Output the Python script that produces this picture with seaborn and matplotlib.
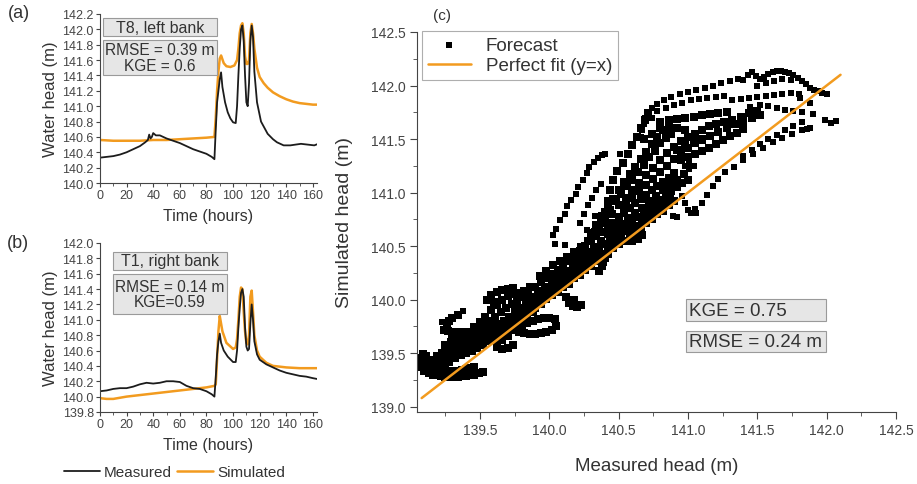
import numpy as np
import pandas as pd
import seaborn as sns
import matplotlib.pyplot as plt
from matplotlib.patches import Rectangle
from matplotlib.ticker import MultipleLocator

# ---- panel (a): T8, left bank ----
t_a_meas = [0, 5, 10, 15, 20, 25, 30, 34, 36, 37,
            38, 39, 40, 42, 45, 50, 55, 60, 65, 70,
            75, 80, 84, 86, 87, 88, 89, 90, 91, 92,
            94, 96, 98, 100, 102, 103, 104, 105, 106, 107,
            108, 109, 110, 111, 112, 113, 114, 115, 116, 118,
            121, 126, 130, 133, 138, 143, 147, 151, 156, 161,
            164]
a_meas = [140.33, 140.34, 140.35, 140.37, 140.40, 140.44, 140.48, 140.53, 140.56, 140.63,
          140.58, 140.60, 140.65, 140.62, 140.62, 140.58, 140.55, 140.52, 140.48, 140.44,
          140.41, 140.38, 140.34, 140.31, 140.70, 141.05, 141.20, 141.35, 141.44, 141.25,
          141.05, 140.92, 140.84, 140.79, 140.78, 141.00, 141.40, 141.75, 142.00, 142.05,
          141.85, 141.40, 141.05, 141.00, 141.30, 141.85, 142.05, 141.90, 141.45, 141.05,
          140.80, 140.64, 140.57, 140.53, 140.49, 140.49, 140.50, 140.51, 140.50, 140.49,
          140.51]
t_a_sim = [0, 10, 20, 30, 40, 50, 60, 70, 80,
           86, 87, 88, 89, 90, 91,
           93, 95, 98, 101, 103,
           104, 105, 106, 107, 108, 109, 110, 111, 112, 113, 114, 115, 116,
           118, 120, 123, 126, 130,
           135, 140, 145, 150, 155, 160, 165]
a_sim = [140.56, 140.55, 140.55, 140.55, 140.56, 140.56, 140.57, 140.58, 140.59,
         140.60, 140.85, 141.20, 141.45, 141.62, 141.66,
         141.56, 141.52, 141.51, 141.53, 141.60,
         141.75, 141.95, 142.05, 142.08, 141.95, 141.65, 141.55, 141.55, 141.60, 141.95, 142.07, 141.95, 141.75,
         141.50, 141.38, 141.30, 141.24, 141.18,
         141.13, 141.09, 141.06, 141.04, 141.03, 141.02, 141.02]

# ---- panel (b): T1, right bank ----
t_b_meas = [0, 5, 10, 15, 20, 25, 30, 35, 40, 45,
            50, 55, 60, 65, 70, 75, 80, 84, 86, 87,
            88, 89, 90, 91, 93, 96, 100, 102, 103, 104,
            105, 106, 107, 108, 109, 110, 111, 112, 113, 114,
            115, 116, 118, 120, 125, 130, 135, 140, 145, 150,
            155, 160, 163]
b_meas = [140.07, 140.08, 140.10, 140.11, 140.11, 140.13, 140.16, 140.18, 140.17, 140.18,
          140.20, 140.20, 140.19, 140.14, 140.11, 140.10, 140.07, 140.03, 140.00, 140.25,
          140.55, 140.72, 140.82, 140.70, 140.60, 140.52, 140.45, 140.45, 140.60, 140.90,
          141.15, 141.35, 141.40, 141.30, 140.90, 140.65, 140.60, 140.62, 140.95, 141.20,
          141.00, 140.72, 140.55, 140.48, 140.42, 140.38, 140.34, 140.31, 140.29, 140.27,
          140.26, 140.24, 140.23]
t_b_sim = [0, 5, 10, 20, 30, 40, 50, 60, 70, 80,
           86, 87, 88, 89, 90, 91, 92, 95, 100, 102,
           103, 104, 105, 106, 107, 108, 109, 110, 111, 112,
           113, 114, 115, 116, 118, 120, 125, 130, 140, 150,
           165]
b_sim = [139.98, 139.97, 139.97, 140.00, 140.02, 140.04, 140.06, 140.08, 140.10, 140.12,
         140.14, 140.16, 140.50, 140.85, 141.05, 140.95, 140.85, 140.70, 140.62, 140.64,
         140.75, 141.00, 141.30, 141.42, 141.40, 141.10, 140.85, 140.70, 140.68, 140.80,
         141.30, 141.38, 141.10, 140.80, 140.60, 140.52, 140.44, 140.40, 140.38, 140.37,
         140.37]

# ---- panel (c): forecast (measured, simulated) pairs ----
# dense part of the cloud (low and central band)
low_pts = [
    (139.10, 139.33), (139.13, 139.31), (139.16, 139.30), (139.19, 139.30), (139.22, 139.29),
    (139.25, 139.28), (139.28, 139.28), (139.31, 139.28), (139.34, 139.28), (139.37, 139.29),
    (139.40, 139.29), (139.43, 139.30), (139.46, 139.30), (139.49, 139.31), (139.52, 139.32),
    (139.07, 139.37), (139.10, 139.36), (139.13, 139.35), (139.16, 139.35), (139.19, 139.34),
    (139.22, 139.34), (139.25, 139.34), (139.28, 139.33), (139.31, 139.33), (139.34, 139.33),
    (139.37, 139.34), (139.40, 139.35), (139.43, 139.36), (139.46, 139.37),
    (139.07, 139.41), (139.08, 139.45), (139.09, 139.49), (139.11, 139.47),
    (139.20, 139.38), (139.24, 139.40), (139.28, 139.42), (139.32, 139.45), (139.36, 139.48),
    (139.40, 139.50), (139.44, 139.52), (139.48, 139.55), (139.52, 139.58), (139.56, 139.61),
    (139.60, 139.63), (139.64, 139.66), (139.68, 139.70), (139.72, 139.73), (139.76, 139.77),
    (139.80, 139.80), (139.84, 139.84), (139.88, 139.88),
    (139.15, 139.44), (139.19, 139.47), (139.23, 139.50), (139.27, 139.53), (139.31, 139.56),
    (139.35, 139.58), (139.39, 139.61), (139.43, 139.63), (139.47, 139.66), (139.51, 139.68),
    (139.55, 139.71), (139.59, 139.73), (139.63, 139.77), (139.67, 139.80), (139.71, 139.84),
    (139.75, 139.88), (139.79, 139.92), (139.83, 139.96), (139.87, 140.00),
    (139.30, 139.62), (139.34, 139.64), (139.38, 139.67), (139.42, 139.70), (139.46, 139.74),
    (139.50, 139.79), (139.54, 139.84), (139.58, 139.90), (139.62, 139.95), (139.66, 140.00),
    (139.70, 140.03), (139.74, 140.05), (139.78, 140.06), (139.82, 140.08), (139.86, 140.12),
    (139.55, 140.00), (139.58, 140.04), (139.62, 140.07), (139.66, 140.09), (139.70, 140.10),
    (139.74, 140.11), (139.60, 139.98),
    (139.24, 139.72), (139.27, 139.71), (139.30, 139.70), (139.33, 139.70), (139.36, 139.70),
    (139.39, 139.69), (139.42, 139.68), (139.45, 139.68), (139.26, 139.76), (139.28, 139.80),
    (139.30, 139.83), (139.34, 139.86),
    (139.78, 139.70), (139.82, 139.69), (139.86, 139.68), (139.90, 139.68), (139.94, 139.69),
    (139.98, 139.70), (140.02, 139.72), (140.05, 139.75), (139.80, 139.76), (139.84, 139.78),
    (139.88, 139.80), (139.92, 139.82), (139.96, 139.83), (140.00, 139.83), (140.04, 139.82),
    (139.74, 139.72), (139.70, 139.66), (139.66, 139.62), (139.62, 139.56), (139.66, 139.54),
    (139.70, 139.55), (139.74, 139.58),
    (139.12, 139.41), (139.16, 139.40), (139.20, 139.42), (139.24, 139.45), (139.28, 139.48),
    (139.32, 139.51), (139.36, 139.53), (139.40, 139.56), (139.44, 139.58), (139.48, 139.61),
    (139.52, 139.64), (139.56, 139.66), (139.60, 139.69), (139.64, 139.72), (139.68, 139.75),
    (139.72, 139.79), (139.76, 139.83), (139.80, 139.86), (139.84, 139.90), (139.88, 139.94),
    (139.25, 139.58), (139.29, 139.60), (139.33, 139.62), (139.37, 139.64), (139.41, 139.66),
    (139.45, 139.70), (139.49, 139.73), (139.53, 139.76), (139.57, 139.80), (139.61, 139.84),
    (139.65, 139.88), (139.69, 139.92), (139.73, 139.96), (139.77, 139.99), (139.81, 140.02),
    (139.85, 140.06),
]

mid_pts = [
    (139.90, 139.92), (139.94, 139.96), (139.98, 140.01), (140.02, 140.04), (140.06, 140.07),
    (140.10, 140.12), (140.14, 140.15), (140.18, 140.20), (140.22, 140.23), (140.26, 140.28),
    (140.30, 140.31), (140.34, 140.36), (140.38, 140.40), (140.42, 140.43), (140.46, 140.48),
    (140.50, 140.52), (140.54, 140.55), (140.58, 140.60), (140.62, 140.63), (140.66, 140.68),
    (140.70, 140.72), (140.74, 140.75), (140.78, 140.80), (140.82, 140.83), (140.86, 140.88),
    (140.90, 140.92),
    (139.92, 139.99), (139.97, 140.03), (140.02, 140.08), (140.07, 140.13), (140.12, 140.18),
    (140.17, 140.23), (140.22, 140.29), (140.27, 140.34), (140.32, 140.38), (140.37, 140.43),
    (140.42, 140.49), (140.47, 140.54), (140.52, 140.59), (140.57, 140.64), (140.62, 140.69),
    (140.67, 140.74), (140.72, 140.79), (140.77, 140.84), (140.82, 140.89), (140.87, 140.94),
    (139.88, 140.02), (139.92, 140.05), (139.96, 140.08), (140.00, 140.11), (140.04, 140.15),
    (140.08, 140.18), (140.12, 140.22), (140.16, 140.26), (140.20, 140.30), (140.24, 140.35),
    (140.28, 140.39), (140.32, 140.43), (140.36, 140.48), (140.40, 140.52), (140.44, 140.56),
    (140.48, 140.60), (140.52, 140.64), (140.56, 140.69), (140.60, 140.73), (140.64, 140.77),
    (140.68, 140.81), (140.72, 140.85), (140.76, 140.89), (140.80, 140.93), (140.84, 140.97),
    (140.88, 141.01), (140.92, 141.05), (140.96, 141.09), (141.00, 141.12),
    (139.92, 140.08), (139.97, 140.12), (140.02, 140.17), (140.07, 140.22), (140.12, 140.27),
    (140.17, 140.33), (140.22, 140.38), (140.27, 140.44), (140.32, 140.49), (140.37, 140.55),
    (140.42, 140.61), (140.47, 140.66), (140.52, 140.71), (140.57, 140.76), (140.62, 140.81),
    (140.67, 140.86), (140.72, 140.92), (140.77, 140.97), (140.82, 141.02), (140.87, 141.07),
    (140.92, 141.12), (140.97, 141.17),
    (139.90, 140.12), (139.94, 140.16), (139.98, 140.20), (140.02, 140.24), (140.06, 140.28),
    (140.10, 140.32), (140.14, 140.36), (140.18, 140.40), (140.22, 140.45), (140.26, 140.50),
    (140.30, 140.55), (140.34, 140.59), (140.38, 140.63), (140.42, 140.68), (140.46, 140.72),
    (140.50, 140.77), (140.54, 140.81), (140.58, 140.86), (140.62, 140.90), (140.66, 140.94),
    (140.70, 140.98), (140.74, 141.02), (140.78, 141.06), (140.82, 141.10), (140.86, 141.14),
    (140.90, 141.18),
    (139.93, 140.22), (139.98, 140.27), (140.03, 140.32), (140.08, 140.36), (140.13, 140.40),
    (140.18, 140.44), (140.23, 140.49), (140.28, 140.55), (140.33, 140.63), (140.37, 140.72),
    (140.40, 140.82), (140.42, 140.92), (140.44, 141.02), (140.46, 141.12), (140.49, 141.20),
    (140.53, 141.28), (140.57, 141.36), (140.60, 141.44), (140.63, 141.52), (140.66, 141.60),
    (140.69, 141.68), (140.71, 141.74),
    (140.30, 140.62), (140.34, 140.70), (140.38, 140.78), (140.42, 140.86), (140.46, 140.94),
    (140.50, 141.02), (140.54, 141.10), (140.58, 141.17), (140.62, 141.24), (140.66, 141.31),
    (140.70, 141.38), (140.74, 141.45), (140.78, 141.52), (140.82, 141.58), (140.86, 141.62),
    (140.36, 140.66), (140.40, 140.75), (140.44, 140.84), (140.48, 140.92), (140.52, 140.99),
    (140.56, 141.06), (140.60, 141.12), (140.64, 141.19), (140.68, 141.26), (140.72, 141.33),
    (140.76, 141.39), (140.80, 141.46), (140.84, 141.51), (140.88, 141.55),
    (140.45, 140.80), (140.50, 140.88), (140.55, 140.95), (140.60, 141.02), (140.65, 141.09),
    (140.70, 141.16), (140.75, 141.23), (140.80, 141.30), (140.85, 141.37), (140.90, 141.43),
    (140.95, 141.48), (141.00, 141.52), (141.05, 141.55), (141.10, 141.58),
    (140.55, 140.88), (140.60, 140.95), (140.65, 141.01), (140.70, 141.07), (140.75, 141.13),
    (140.80, 141.19), (140.85, 141.25), (140.90, 141.31), (140.95, 141.37), (141.00, 141.42),
    (141.05, 141.46), (141.10, 141.49),
    (140.14, 139.97), (140.17, 139.94), (140.20, 139.93), (140.23, 139.95), (140.18, 140.00),
    (140.12, 140.02), (140.36, 140.27), (140.38, 140.31), (140.39, 140.35), (140.40, 140.39),
    (140.56, 140.55), (140.60, 140.55), (140.64, 140.57), (140.67, 140.60), (140.58, 140.58),
]

upper_dense_pts = [
    (140.92, 141.40), (140.98, 141.44), (141.04, 141.47), (141.10, 141.50), (141.16, 141.53),
    (141.22, 141.57), (141.28, 141.60), (141.34, 141.64), (141.40, 141.67), (141.46, 141.70),
    (141.52, 141.72),
    (140.95, 141.30), (141.00, 141.33), (141.05, 141.36), (141.10, 141.39), (141.15, 141.42),
    (141.20, 141.45), (141.25, 141.49), (141.30, 141.53), (141.35, 141.56), (141.40, 141.59),
    (141.15, 141.62), (141.20, 141.64), (141.26, 141.66), (141.32, 141.68), (141.38, 141.71),
    (141.44, 141.74), (141.50, 141.76),
    (140.80, 141.66), (140.86, 141.68), (140.92, 141.69), (140.98, 141.70), (141.04, 141.71),
    (141.10, 141.72), (141.16, 141.73), (141.22, 141.74), (141.28, 141.75),
    (140.68, 141.50), (140.74, 141.55), (140.80, 141.60), (140.86, 141.62), (140.92, 141.60),
    (140.98, 141.58),
]

# separate squares: top arcs, right-hand strands and outliers
arc_pts = [
    (140.66, 141.52), (140.67, 141.58), (140.68, 141.64), (140.69, 141.70), (140.71, 141.75),
    (140.74, 141.79), (140.78, 141.83), (140.83, 141.86), (140.88, 141.89), (140.94, 141.92),
    (141.00, 141.94), (141.06, 141.96), (141.12, 141.98), (141.18, 142.00), (141.24, 142.02),
    (141.30, 142.04),
    (140.74, 141.70), (140.78, 141.76), (140.84, 141.79), (140.90, 141.82), (140.96, 141.84),
    (141.02, 141.86), (141.08, 141.87), (141.14, 141.88), (141.20, 141.89), (141.26, 141.90),
    (141.36, 142.06), (141.40, 142.05), (141.43, 142.10), (141.46, 142.13), (141.49, 142.09),
    (141.52, 142.06), (141.55, 142.08), (141.58, 142.11), (141.61, 142.13), (141.64, 142.14),
    (141.67, 142.14), (141.70, 142.13), (141.73, 142.12), (141.76, 142.10), (141.79, 142.07),
    (141.82, 142.04), (141.85, 142.01), (141.88, 141.98), (141.91, 141.96), (141.94, 141.95),
    (141.97, 141.93), (142.00, 141.92), (141.50, 142.00), (141.56, 142.02), (141.62, 142.04),
    (141.68, 142.06), (141.74, 142.05),
    (141.32, 141.86), (141.38, 141.87), (141.44, 141.88), (141.50, 141.89), (141.56, 141.90),
    (141.62, 141.91), (141.68, 141.92), (141.74, 141.93), (141.80, 141.92),
    (141.45, 141.80), (141.52, 141.82), (141.58, 141.81), (141.64, 141.79), (141.70, 141.77),
    (141.76, 141.76), (141.82, 141.75),
    (140.98, 141.25), (141.01, 141.28), (141.04, 141.25), (141.01, 141.22),
    (141.90, 141.73), (141.99, 141.68), (142.07, 141.67), (141.86, 141.59), (142.03, 141.65),
    (141.81, 141.88), (141.88, 141.84),
]

sparse_pts = [
    (140.03, 140.60), (140.05, 140.66), (140.08, 140.74), (140.11, 140.80), (140.13, 140.87),
    (140.16, 140.93), (140.19, 140.99), (140.21, 141.05), (140.24, 141.12), (140.27, 141.18),
    (140.29, 141.24), (140.32, 141.29), (140.35, 141.32), (140.38, 141.35), (140.40, 141.36),
    (140.04, 140.52), (140.11, 140.51), (140.51, 141.36), (139.38, 139.89), (139.23, 139.79),
    (140.22, 140.72), (140.25, 140.80), (140.28, 140.88), (140.31, 140.95), (140.34, 141.02),
    (140.37, 141.08), (140.27, 140.65), (140.33, 140.78),
    (140.89, 140.78), (140.92, 140.77),
    (140.98, 140.90), (141.00, 140.84), (141.02, 140.81), (141.06, 140.81), (140.96, 140.97),
    (141.05, 140.85), (141.10, 140.90), (141.14, 140.98), (141.18, 141.06), (141.22, 141.13),
    (141.27, 141.19), (141.33, 141.24), (141.40, 141.30), (141.47, 141.36), (141.54, 141.42),
    (141.61, 141.47), (141.68, 141.51), (141.75, 141.55), (141.82, 141.58), (141.88, 141.60),
    (141.40, 141.34), (141.46, 141.40), (141.52, 141.45), (141.58, 141.50), (141.64, 141.54),
    (141.70, 141.58), (141.76, 141.62), (141.82, 141.66),
]

fit_range = [139.08, 142.10]

BLACK = "#1c1c1c"
ORANGE = "#f29b1f"
TEXT = "#333333"
BOX_FACE = "#e6e6e6"
BOX_EDGE = "#9a9a9a"

sns.set_style("ticks")
plt.rcParams["font.family"] = ["Liberation Sans", "DejaVu Sans"]
plt.rcParams["text.color"] = TEXT
plt.rcParams["axes.labelcolor"] = TEXT
plt.rcParams["xtick.color"] = "#444444"
plt.rcParams["ytick.color"] = "#444444"
plt.rcParams["axes.edgecolor"] = "#444444"

fig = plt.figure(figsize=(9.17, 4.85), dpi=100)
ax_a = fig.add_axes([0.109, 0.6206, 0.2366, 0.3485])
ax_b = fig.add_axes([0.109, 0.1485, 0.2366, 0.3485])
ax_c = fig.add_axes([0.4547, 0.1485, 0.5224, 0.7835])


def style_small(ax, ylo, yhi):
    ax.set_xlim(0, 163)
    ax.set_ylim(ylo, yhi)
    ax.xaxis.set_major_locator(MultipleLocator(20))
    ax.xaxis.set_minor_locator(MultipleLocator(10))
    ax.yaxis.set_major_locator(MultipleLocator(0.2))
    ax.yaxis.set_major_formatter(plt.FormatStrFormatter("%.1f"))
    ax.tick_params(which="major", direction="out", length=3, width=0.8, labelsize=9, pad=1.5)
    ax.tick_params(which="minor", direction="out", length=2, width=0.6)
    sns.despine(ax=ax)
    ax.set_xlabel("Time (hours)", fontsize=11.5)
    ax.set_ylabel("Water head (m)", fontsize=12)
    ax.xaxis.set_label_coords(0.5, -0.145)
    ax.yaxis.set_label_coords(-0.194, 0.5)


def text_box(ax, x0, y0, x1, y1, txt, size):
    ax.add_patch(Rectangle((x0, y0), x1 - x0, y1 - y0, transform=ax.transAxes,
                           facecolor=BOX_FACE, edgecolor=BOX_EDGE, lw=0.8, clip_on=False, zorder=5))
    if txt:
        ax.text((x0 + x1) / 2, (y0 + y1) / 2, txt, transform=ax.transAxes, ha="center", va="center",
                fontsize=size, linespacing=1.05, zorder=6)


# (a)
sns.lineplot(x=t_a_sim, y=a_sim, ax=ax_a, color=ORANGE, lw=1.8, label="Simulated")
sns.lineplot(x=t_a_meas, y=a_meas, ax=ax_a, color=BLACK, lw=1.3, label="Measured")
ax_a.legend_.remove()
style_small(ax_a, 140.0, 142.2)
text_box(ax_a, 0.014, 0.870, 0.539, 0.976, "T8, left bank", 11.5)
text_box(ax_a, 0.014, 0.639, 0.539, 0.846, "RMSE = 0.39 m\nKGE = 0.6", 11.2)

# (b)
sns.lineplot(x=t_b_sim, y=b_sim, ax=ax_b, color=ORANGE, lw=1.8, label="Simulated")
sns.lineplot(x=t_b_meas, y=b_meas, ax=ax_b, color=BLACK, lw=1.3, label="Measured")
ax_b.legend_.remove()
style_small(ax_b, 139.8, 142.0)
ax_b.xaxis.set_label_coords(0.5, -0.148)
text_box(ax_b, 0.06, 0.840, 0.585, 0.947, "T1, right bank", 11.5)
text_box(ax_b, 0.06, 0.580, 0.585, 0.817, "RMSE = 0.14 m\nKGE=0.59", 11.2)

# (c)
dense = pd.DataFrame(low_pts + mid_pts + upper_dense_pts, columns=["Measured", "Simulated"])
loose = pd.DataFrame(arc_pts + sparse_pts, columns=["Measured", "Simulated"])
sns.scatterplot(data=dense, x="Measured", y="Simulated", ax=ax_c, marker="s", s=40,
                color="black", linewidth=0, zorder=2)
sns.scatterplot(data=loose, x="Measured", y="Simulated", ax=ax_c, marker="s", s=15,
                color="black", linewidth=0, label="Forecast", zorder=2)
sns.lineplot(x=fit_range, y=fit_range, ax=ax_c, color=ORANGE, lw=1.8, label="Perfect fit (y=x)", zorder=3)
ax_c.set_xlim(139.046, 142.5)
ax_c.set_ylim(138.95, 142.5)
ax_c.xaxis.set_major_locator(MultipleLocator(0.5))
ax_c.xaxis.set_minor_locator(MultipleLocator(0.25))
ax_c.yaxis.set_major_locator(MultipleLocator(0.5))
ax_c.yaxis.set_minor_locator(MultipleLocator(0.25))
ax_c.xaxis.set_major_formatter(plt.FormatStrFormatter("%.1f"))
ax_c.yaxis.set_major_formatter(plt.FormatStrFormatter("%.1f"))
ax_c.tick_params(which="major", direction="out", length=5, width=0.8, labelsize=10, pad=3)
ax_c.tick_params(which="minor", direction="out", length=3, width=0.6)
sns.despine(ax=ax_c)
ax_c.set_xlabel("Measured head (m)", fontsize=13.5)
ax_c.set_ylabel("Simulated head (m)", fontsize=14)
ax_c.xaxis.set_label_coords(0.5, -0.118)
ax_c.yaxis.set_label_coords(-0.134, 0.5)
leg = ax_c.legend(loc="upper left", bbox_to_anchor=(0.0104, 1.003), fontsize=13.5, frameon=True,
                  fancybox=False, edgecolor=BOX_EDGE, borderaxespad=0, handlelength=2.3,
                  markerscale=1.0, borderpad=0.3, labelspacing=0.2)
leg.get_frame().set_linewidth(0.8)
text_box(ax_c, 0.5616, 0.2395, 0.854, 0.297, "", 13.5)
text_box(ax_c, 0.5616, 0.158, 0.854, 0.213, "", 13.5)
ax_c.text(0.567, 0.268, "KGE = 0.75", transform=ax_c.transAxes, ha="left", va="center", fontsize=13.5, zorder=6)
ax_c.text(0.567, 0.1855, "RMSE = 0.24 m", transform=ax_c.transAxes, ha="left", va="center", fontsize=13.5, zorder=6)

# panel letters
fig.text(0.009, 0.99, "(a)", fontsize=13, va="top", ha="left")
fig.text(0.008, 0.515, "(b)", fontsize=13, va="top", ha="left")
fig.text(0.472, 0.982, "(c)", fontsize=11, va="top", ha="left")

# shared legend for (a) and (b)
handles, labels = ax_b.get_legend_handles_labels()
order = [labels.index("Measured"), labels.index("Simulated")]
fig.legend([handles[i] for i in order], [labels[i] for i in order], loc="center",
           bbox_to_anchor=(0.19, 0.025), ncol=2, frameon=False, fontsize=11,
           handlelength=2.4, handletextpad=0.25, columnspacing=0.3)

fig.savefig("out.png", dpi=100)
